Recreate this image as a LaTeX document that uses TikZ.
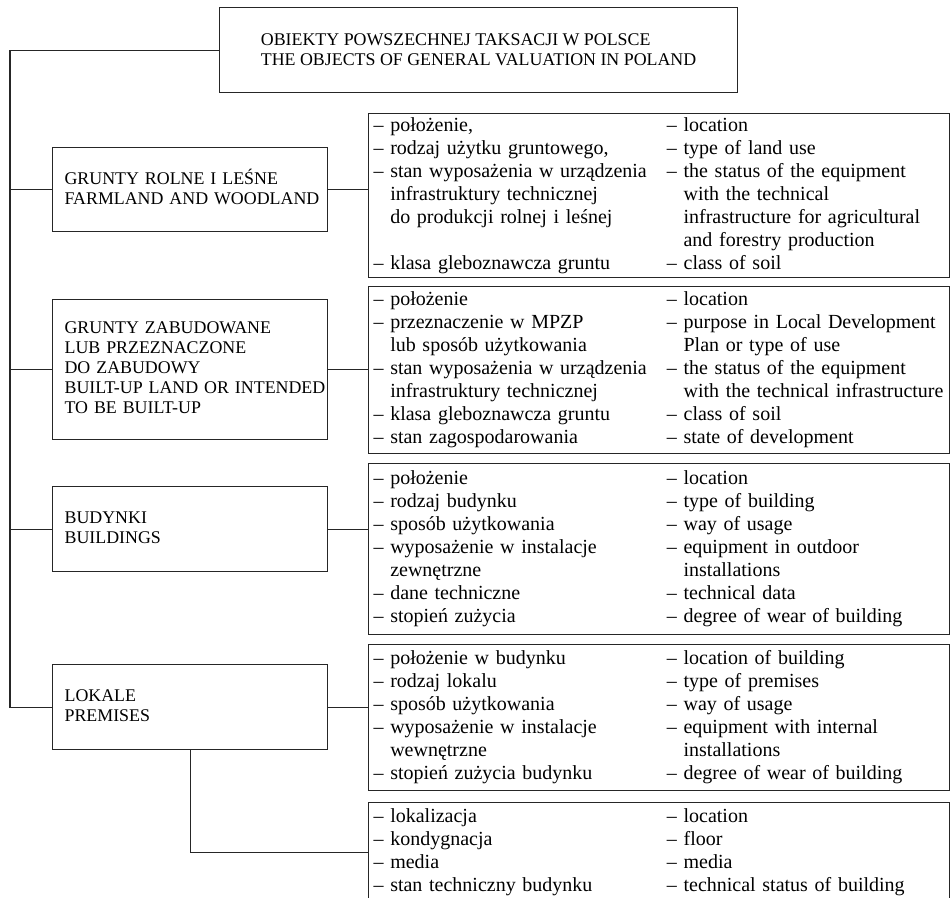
\documentclass[tikz,border=0pt]{standalone}
\usepackage{fontspec}
\setmainfont{Liberation Serif}
\usetikzlibrary{positioning}

\newcommand{\dd}{\textendash\ }
\newcommand{\ind}{\hphantom{\textendash\ }}
\newcommand{\kategoria}[1]{\begin{tabular}{@{\hspace{9pt}}l@{}}#1\end{tabular}}
\newcommand{\cechy}[1]{\begin{tabular}{@{}p{220pt}@{}l@{}}#1\end{tabular}}

\begin{document}
\begin{tikzpicture}[
    x=0.75pt, y=-0.75pt,
    line/.style={draw=black!85, line width=0.9pt},
    titlebox/.style={
        line,
        anchor=north west,
        align=left,
        minimum width=388.5pt,
        minimum height=63.75pt,
        font=\fontsize{13.4}{15}\selectfont
    },
    catbox/.style={
        line,
        anchor=north west,
        align=left,
        text width=206.25pt,
        inner xsep=0pt,
        font=\fontsize{13.4}{15}\selectfont
    },
    listbox/.style={
        line,
        anchor=north west,
        align=left,
        text width=428.25pt,
        inner xsep=3.75pt,
        inner ysep=1pt,
        font=\fontsize{15}{17.25}\selectfont
    }
]
    \clip (0,0) rectangle (952,897);

    % Tytul schematu
    \node[titlebox] (obiekty) at (219,7)
        {OBIEKTY POWSZECHNEJ TAKSACJI W POLSCE\\THE OBJECTS OF GENERAL VALUATION IN POLAND};

    % Kategorie obiektow (lewa kolumna)
    \node[catbox, minimum height=63pt] (rolne) at (52,147)
        {\kategoria{GRUNTY ROLNE I LEŚNE\\FARMLAND AND WOODLAND}};
    \node[catbox, minimum height=105pt] (zabudowane) at (52,299)
        {\kategoria{GRUNTY ZABUDOWANE\\LUB PRZEZNACZONE\\DO ZABUDOWY\\BUILT-UP LAND OR INTENDED\\TO BE BUILT-UP}};
    \node[catbox, minimum height=63.75pt] (budynki) at (52,486)
        {\kategoria{BUDYNKI\\BUILDINGS}};
    \node[catbox, minimum height=63.75pt] (lokale) at (52,664)
        {\kategoria{LOKALE\\PREMISES}};

    % Cechy obiektow (prawa kolumna)
    \node[listbox, minimum height=123pt] (cechyRolne) at (368,113) {\cechy{
        \dd położenie, & \dd location \\
        \dd rodzaj użytku gruntowego, & \dd type of land use \\
        \dd stan wyposażenia w urządzenia & \dd the status of the equipment \\
        \ind infrastruktury technicznej & \ind with the technical \\
        \ind do produkcji rolnej i leśnej & \ind infrastructure for agricultural \\
        & \ind and forestry production \\
        \dd klasa gleboznawcza gruntu & \dd class of soil}};
    \node[listbox, minimum height=125.25pt] (cechyZabud) at (368,286) {\cechy{
        \dd położenie & \dd location \\
        \dd przeznaczenie w MPZP & \dd purpose in Local Development \\
        \ind lub sposób użytkowania & \ind Plan or type of use \\
        \dd stan wyposażenia w urządzenia & \dd the status of the equipment \\
        \ind infrastruktury technicznej & \ind with the technical infrastructure \\
        \dd klasa gleboznawcza gruntu & \dd class of soil \\
        \dd stan zagospodarowania & \dd state of development}};
    \node[listbox, minimum height=128.25pt] (cechyBud) at (368,463) {\cechy{
        \dd położenie & \dd location \\
        \dd rodzaj budynku & \dd type of building \\
        \dd sposób użytkowania & \dd way of usage \\
        \dd wyposażenie w instalacje & \dd equipment in outdoor \\
        \ind zewnętrzne & \ind installations \\
        \dd dane techniczne & \dd technical data \\
        \dd stopień zużycia & \dd degree of wear of building}};
    \node[listbox, minimum height=109.5pt] (cechyLok) at (368,644) {\cechy{
        \dd położenie w budynku & \dd location of building \\
        \dd rodzaj lokalu & \dd type of premises \\
        \dd sposób użytkowania & \dd way of usage \\
        \dd wyposażenie w instalacje & \dd equipment with internal \\
        \ind wewnętrzne & \ind installations \\
        \dd stopień zużycia budynku & \dd degree of wear of building}};
    \node[listbox, minimum height=75pt] (cechyMedia) at (368,802) {\cechy{
        \dd lokalizacja & \dd location \\
        \dd kondygnacja & \dd floor \\
        \dd media & \dd media \\
        \dd stan techniczny budynku & \dd technical status of building}};

    % Pionowa linia zbiorcza po lewej
    \coordinate (pion) at (10,0);
    \draw[line] (obiekty.west) -| (pion |- lokale.west) -- (lokale.west);
    \draw[line] (rolne.west) -- (rolne.west -| pion);
    \draw[line] (zabudowane.west) -- (zabudowane.west -| pion);
    \draw[line] (budynki.west) -- (budynki.west -| pion);

    % Polaczenia kategorii z cechami
    \draw[line] (rolne.east) -- (rolne.east -| cechyRolne.west);
    \draw[line] (zabudowane.east) -- (zabudowane.east -| cechyZabud.west);
    \draw[line] (budynki.east) -- (budynki.east -| cechyBud.west);
    \draw[line] (lokale.east) -- (lokale.east -| cechyLok.west);
    \draw[line] (lokale.south) |- (cechyMedia.west);
\end{tikzpicture}
\end{document}
